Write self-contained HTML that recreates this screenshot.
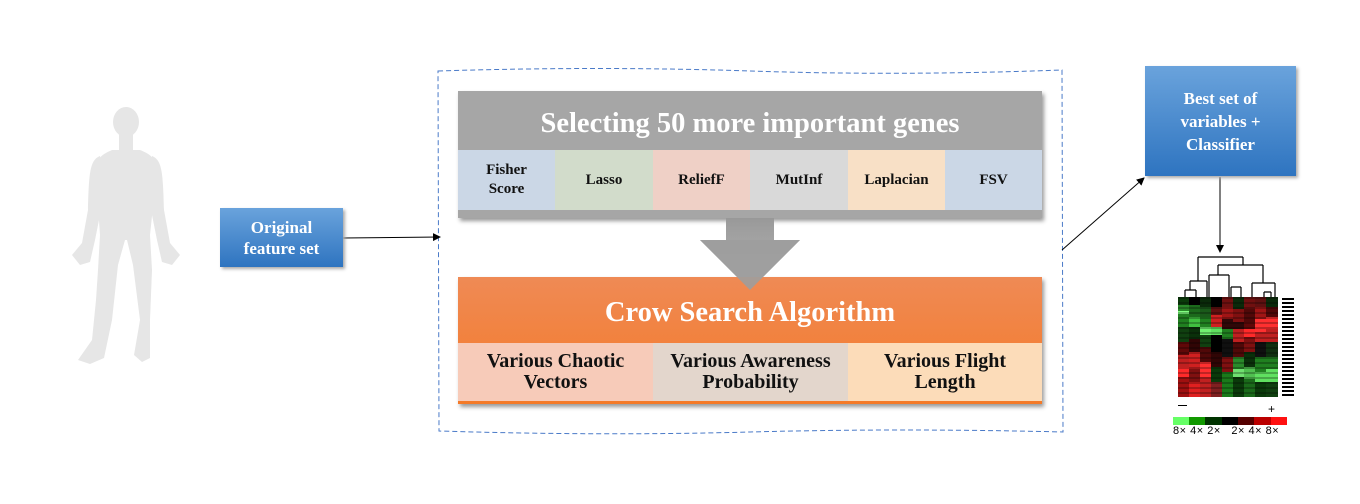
<!DOCTYPE html>
<html><head><meta charset="utf-8"><style>
body{margin:0;width:1360px;height:504px;background:#fff;position:relative;overflow:hidden;font-family:"Liberation Serif",serif;font-weight:bold}
.a{position:absolute}
.cell{position:absolute;display:flex;align-items:center;justify-content:center;text-align:center;font-size:15px;line-height:19px;color:#111}
.c2{font-size:20px;line-height:21px}
.col{position:absolute;top:297px;width:11px;height:100px}
</style></head><body>
<svg class="a" style="left:0;top:0" width="1360" height="504">
<defs><marker id="ar" markerWidth="8" markerHeight="8" refX="7" refY="4" orient="auto"><path d="M0,0 L8,4 L0,8 Z" fill="#000"/></marker>
<linearGradient id="ag" x1="0" y1="0" x2="0" y2="1"><stop offset="0" stop-color="#9a9a9a"/><stop offset="1" stop-color="#b5b5b5"/></linearGradient></defs>
<g fill="#e6e6e6">
<path d="M112,150 L140,150 C155,156 158,162 156,178 L150,235 L152,270 L150,320 L150,358 L142,362 L134,355 L140,320 L133,265 L127,240 L125,240 L118,265 L112,320 L104,358 L90,364 L78,360 L92,340 L96,300 L98,270 L100,235 L96,178 C94,162 98,156 112,150 Z"/>
<path d="M100,156 C90,160 89,172 88,210 L82,243 L72,255 L80,265 L90,262 L95,240 L102,205 L104,180 Z"/>
<path d="M152,156 C162,160 163,172 164,210 L170,243 L180,255 L172,265 L162,262 L157,240 L150,205 L148,180 Z"/>
<rect x="119" y="130" width="14" height="22"/>
<ellipse cx="126" cy="122" rx="13" ry="15"/>
</g>
<path d="M438,71 Q600,66 750,71 T1062,70 L1063,432 Q900,428 750,432 T439,431 Z" fill="none" stroke="#4a7ac8" stroke-width="1" stroke-dasharray="5,3"/>
<line x1="343" y1="238" x2="440" y2="237" stroke="#000" marker-end="url(#ar)"/>
<line x1="1062" y1="250" x2="1144" y2="178" stroke="#000" marker-end="url(#ar)"/>
<line x1="1220" y1="177" x2="1220" y2="252" stroke="#000" marker-end="url(#ar)"/>
<path d="M726,218 H774 V240 H800 L750,290 L700,240 H726 Z" fill="url(#ag)"/>
<g stroke="#000" stroke-width="1.2" fill="none">
<path d="M1198,257 H1243 M1198,257 V281 M1243,257 V265 M1190,281 H1207 M1190,281 V290 M1207,281 V297 M1185,290 H1196 M1185,290 V297 M1196,290 V297 M1218,265 H1263 M1218,265 V275 M1263,265 V283 M1229,275 V297 M1209,275 H1229 M1209,275 V297 M1231,287 H1241 M1231,287 V297 M1241,287 V297 M1252,283 H1275 M1252,283 V297 M1275,283 V297 M1264,292 H1271 M1264,292 V297 M1271,292 V297"/>
</g>
</svg>
<div class="col" style="left:1178px;background:linear-gradient(#0a3a0a 0 8%,#2a8a2a 8% 14%,#80ff80 14% 17%,#208020 17% 30%,#104010 30% 45%,#600808 45% 58%,#c02020 58% 70%,#ff2a2a 70% 80%,#a01010 80% 100%)"></div>
<div class="col" style="left:1189px;background:linear-gradient(#000 0 8%,#1c6a1c 8% 20%,#40c040 20% 30%,#0a300a 30% 42%,#300505 42% 55%,#d02020 55% 72%,#801010 72% 85%,#e02020 85% 100%)"></div>
<div class="col" style="left:1200px;background:linear-gradient(#0a2a0a 0 10%,#1a5a1a 10% 20%,#208020 20% 30%,#70f070 30% 38%,#104010 38% 50%,#500808 50% 65%,#ff3030 65% 80%,#c02020 80% 100%)"></div>
<div class="col" style="left:1211px;background:linear-gradient(#000 0 10%,#601010 10% 18%,#d02020 18% 30%,#60e060 30% 38%,#000 38% 55%,#300505 55% 70%,#0a3a0a 70% 85%,#802020 85% 100%)"></div>
<div class="col" style="left:1222px;background:linear-gradient(#701010 0 10%,#a01515 10% 22%,#300808 22% 32%,#208020 32% 42%,#101010 42% 60%,#801010 60% 75%,#1a7a1a 75% 100%)"></div>
<div class="col" style="left:1233px;background:linear-gradient(#0a2a0a 0 12%,#801010 12% 25%,#300808 25% 32%,#c02020 32% 45%,#500808 45% 60%,#2a8a2a 60% 72%,#70e070 72% 80%,#0a3a0a 80% 100%)"></div>
<div class="col" style="left:1244px;background:linear-gradient(#701010 0 12%,#500808 12% 25%,#600808 25% 32%,#ff2a2a 32% 40%,#801010 40% 55%,#0a300a 55% 70%,#50c050 70% 82%,#1a6a1a 82% 100%)"></div>
<div class="col" style="left:1255px;background:linear-gradient(#601010 0 10%,#a01515 10% 22%,#ff3030 22% 35%,#c02020 35% 45%,#101010 45% 60%,#208020 60% 75%,#60e060 75% 85%,#0a3a0a 85% 100%)"></div>
<div class="col" style="left:1266px;width:12px;background:linear-gradient(#0a2a0a 0 10%,#500808 10% 20%,#ff3030 20% 32%,#c02020 32% 45%,#103010 45% 60%,#208020 60% 72%,#60e060 72% 85%,#104010 85% 100%)"></div>
<div class="a" style="left:1178px;top:297px;width:100px;height:100px;background:repeating-linear-gradient(180deg,rgba(0,0,0,.25) 0 2px,rgba(0,0,0,0) 2px 5px)"></div>
<div class="a" style="left:1282px;top:298px;width:12px;height:98px;background:repeating-linear-gradient(180deg,#000 0 2px,#fff 2px 4px)"></div>
<div class="a" style="left:1173px;top:417px;width:114px;height:8px;background:linear-gradient(90deg,#6f6 0 14%,#190 14% 28%,#030 28% 43%,#000 43% 57%,#500 57% 71%,#b00 71% 86%,#f11 86%)"></div>
<div class="a" style="left:1173px;top:425px;font:11px 'Liberation Sans',sans-serif;color:#000;white-space:pre;letter-spacing:0.5px">8× 4× 2×   2× 4× 8×</div>
<div class="a" style="left:1178px;top:405px;width:9px;height:1px;background:#000"></div>
<div class="a" style="left:1268px;top:402px;font:12px 'Liberation Sans',sans-serif">+</div>

<div class="cell" style="left:220px;top:208px;width:123px;height:59px;background:linear-gradient(#6aa3dc,#2e74c0);color:#fff;font-size:17px;line-height:21px;box-shadow:2px 2px 3px #aaa">Original<br>feature set</div>
<div class="cell" style="left:1145px;top:66px;width:151px;height:110px;background:linear-gradient(#6aa3dc,#2e74c0);color:#fff;font-size:17px;line-height:23px;box-shadow:2px 2px 3px #aaa">Best set of<br>variables +<br>Classifier</div>

<div class="a" style="left:458px;top:91px;width:584px;height:127px;background:#a6a6a6;box-shadow:2px 3px 4px #999"></div>
<div class="cell" style="left:458px;top:96px;width:584px;height:54px;color:#fff;font-size:28.5px">Selecting 50 more important genes</div>
<div class="cell" style="left:458px;top:150px;width:97px;height:60px;background:#cbd7e6">Fisher<br>Score</div>
<div class="cell" style="left:555px;top:150px;width:98px;height:60px;background:#d2dccb">Lasso</div>
<div class="cell" style="left:653px;top:150px;width:97px;height:60px;background:#efd0c6">ReliefF</div>
<div class="cell" style="left:750px;top:150px;width:98px;height:60px;background:#d9d9d9">MutInf</div>
<div class="cell" style="left:848px;top:150px;width:97px;height:60px;background:#f8e0c6">Laplacian</div>
<div class="cell" style="left:945px;top:150px;width:97px;height:60px;background:#cbd7e6">FSV</div>

<div class="a" style="left:458px;top:277px;width:584px;height:127px;background:linear-gradient(#ef8a55,#f47a28);box-shadow:2px 3px 4px #999"></div>
<div class="cell" style="left:458px;top:282px;width:584px;height:60px;color:#fff;font-size:28.5px">Crow Search Algorithm</div>
<div class="cell c2" style="left:458px;top:343px;width:195px;height:58px;background:#f7cbb9">Various Chaotic<br>Vectors</div>
<div class="cell c2" style="left:653px;top:343px;width:195px;height:58px;background:#e3d6cc">Various Awareness<br>Probability</div>
<div class="cell c2" style="left:848px;top:343px;width:194px;height:58px;background:#fcdcb9">Various Flight<br>Length</div>
<svg class="a" style="left:700px;top:240px" width="100" height="52"><path d="M0,0 H100 L50,50 Z" fill="#9d9d9d" opacity="0.9"/></svg>
</body></html>
